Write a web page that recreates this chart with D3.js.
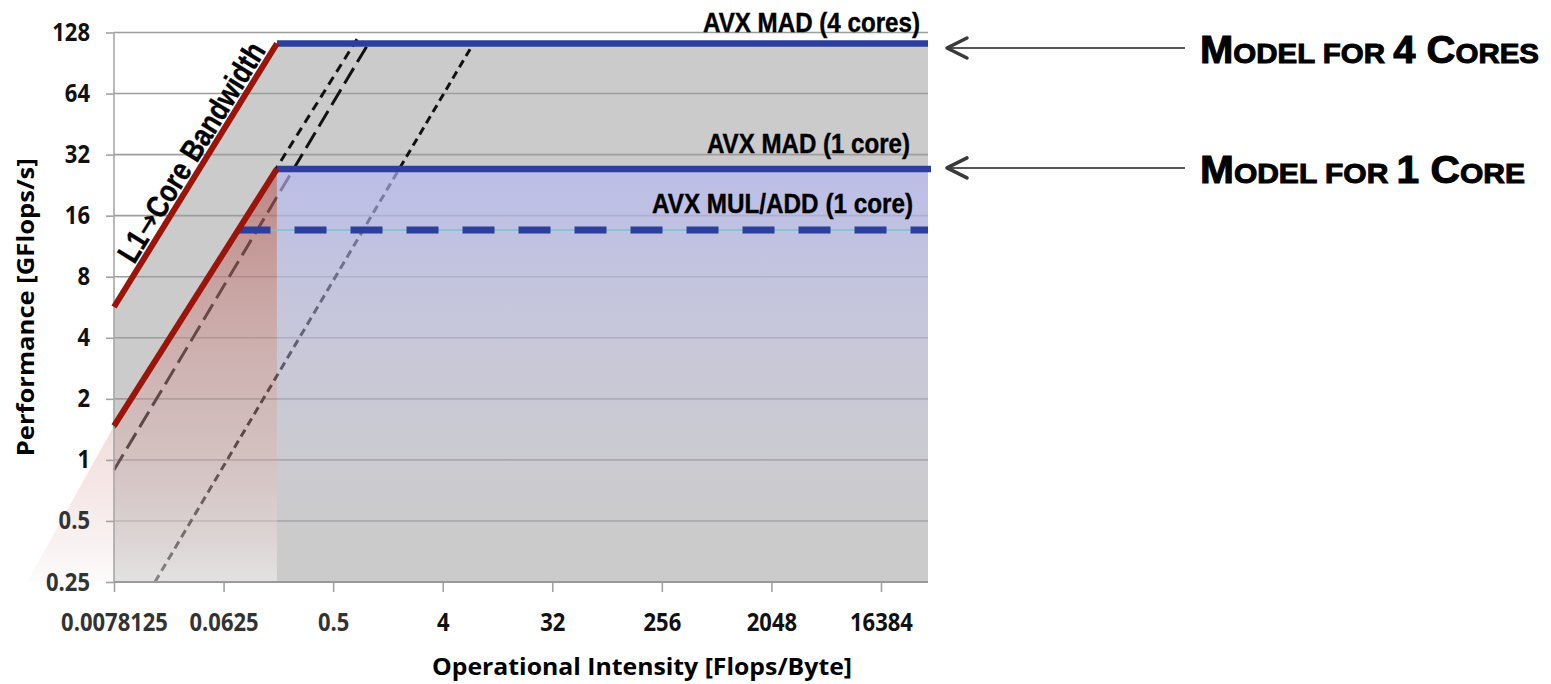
<!DOCTYPE html>
<html>
<head>
<meta charset="utf-8">
<script src="https://cdn.jsdelivr.net/npm/d3@7"></script>
<style>
  body { margin: 0; background: #fff; }
  text { font-family: "Open Sans", "Liberation Sans", sans-serif; }
  .narrow { font-family: "Liberation Sans Narrow", "Liberation Sans", "DejaVu Sans", sans-serif; font-weight: bold; }
</style>
</head>
<body>
<svg id="roofline" width="1551" height="684"></svg>
<script>
// axis ticks and limits
const xTicks = [0.0078125, 0.0625, 0.5, 4, 32, 256, 2048, 16384];
const yTicks = [0.25, 0.5, 1, 2, 4, 8, 16, 32, 64, 128];
const xLimits = [0.0078125, 40000];
const yLimits = [0.25, 128];

// compute ceilings (GFlops/s) and where each one starts (Flops/Byte)
const roofLabels = ["AVX MAD (4 cores)", "AVX MAD (1 core)", "AVX MUL/ADD (1 core)"];
const roofPeaks = [113, 27.2, 13.6];
const roofStarts = [0.172, 0.172, 0.083];

// L1 -> core bandwidth slopes, [intensity, performance]
const bw4 = [[0.0078125, 5.67], [0.172, 113]];
const bw1 = [[0.0078125, 1.47], [0.172, 27.2]];

// black dashed bandwidth lines behind
const dashA = [[0.0078125, 1.435], [0.787, 118.7]];
const dashB = [[0.0078125, 0.891], [0.951, 110]];
const dashC = [[0.017, 0.25], [6.98, 110]];

// where the shaded 1-core wedge meets the bottom
const wedgeFoot = [0.0015, 0.25];

const modelNotes = ["Model for 4 Cores", "Model for 1 Core"];

const svg = d3.select("#roofline");

const x = d3.scaleLog().domain(xLimits).range([114, 928]);
const y = d3.scaleLog().domain(yLimits).range([582, 32.5]);

const line = d3.line()
  .x(d => x(d[0]))
  .y(d => y(d[1]));

const xMax = xLimits[1], yMin = yLimits[0];

// squeeze a text sideways so it looks like a condensed face
function squeeze(sel, k) {
  sel.each(function () {
    const w = this.getComputedTextLength();
    d3.select(this).attr("textLength", w * k).attr("lengthAdjust", "spacingAndGlyphs");
  });
}

// gradients for the 1 core area
const defs = svg.append("defs");
const redGrad = defs.append("linearGradient").attr("id", "redFade")
  .attr("gradientUnits", "userSpaceOnUse")
  .attr("x1", 0).attr("x2", 0).attr("y1", y(roofPeaks[1])).attr("y2", y(yMin));
redGrad.append("stop").attr("offset", 0).attr("stop-color", "rgb(178,90,86)").attr("stop-opacity", 0.62);
redGrad.append("stop").attr("offset", 0.65).attr("stop-color", "rgb(222,168,166)").attr("stop-opacity", 0.36);
redGrad.append("stop").attr("offset", 1).attr("stop-color", "rgb(250,248,248)").attr("stop-opacity", 0.5);

const blueGrad = defs.append("linearGradient").attr("id", "blueFade")
  .attr("gradientUnits", "userSpaceOnUse")
  .attr("x1", 0).attr("x2", 0).attr("y1", y(roofPeaks[1])).attr("y2", y(yMin));
blueGrad.append("stop").attr("offset", 0).attr("stop-color", "rgb(180,183,245)").attr("stop-opacity", 0.68);
blueGrad.append("stop").attr("offset", 0.6).attr("stop-color", "rgb(200,200,230)").attr("stop-opacity", 0.35);
blueGrad.append("stop").attr("offset", 1).attr("stop-color", "rgb(204,204,204)").attr("stop-opacity", 0.1);

// gray area under the 4 core roofline
svg.append("path")
  .attr("d", line([bw4[0], bw4[1], [xMax, roofPeaks[0]], [xMax, yMin], [xLimits[0], yMin]]) + "Z")
  .attr("fill", "#cbcbcb");

// grid
svg.append("g")
  .selectAll("line")
  .data(yTicks)
  .join("line")
  .attr("x1", x(xLimits[0])).attr("x2", x(xMax))
  .attr("y1", d => y(d)).attr("y2", d => y(d))
  .attr("stroke", "#9d9d9d")
  .attr("stroke-width", 1.6);

// dashed black lines
const dashes = [[dashA, "9,6"], [dashB, "18,7"], [dashC, "8,5"]];
svg.append("g")
  .selectAll("path")
  .data(dashes)
  .join("path")
  .attr("d", d => line(d[0]))
  .attr("fill", "none")
  .attr("stroke", "#111")
  .attr("stroke-width", 3)
  .attr("stroke-dasharray", d => d[1]);

// shaded 1 core region
svg.append("path")
  .attr("d", line([wedgeFoot, bw1[0], bw1[1], [bw1[1][0], yMin]]) + "Z")
  .attr("fill", "url(#redFade)");
svg.append("path")
  .attr("d", line([[roofStarts[1], roofPeaks[1]], [xMax, roofPeaks[1]], [xMax, yMin], [roofStarts[1], yMin]]) + "Z")
  .attr("fill", "url(#blueFade)");

// axes
const yAxis = svg.append("g")
  .attr("transform", "translate(" + x(xLimits[0]) + ",0)")
  .call(d3.axisLeft(y).tickValues(yTicks).tickFormat(d => d).tickSize(8).tickPadding(16));
const xAxis = svg.append("g")
  .attr("transform", "translate(0," + y(yMin) + ")")
  .call(d3.axisBottom(x).tickValues(xTicks).tickFormat(d => d).tickSize(10).tickPadding(21));
[yAxis, xAxis].forEach(g => {
  g.select(".domain").remove();
  g.selectAll(".tick line").attr("stroke", "#a3a3a3").attr("stroke-width", 1.6);
  g.selectAll("text")
    .attr("font-family", "Open Sans")
    .attr("font-weight", "bold")
    .attr("font-size", 25)
    .attr("fill", d => d < 1 ? "#333" : "#111")
    .call(squeeze, 0.88);
});
svg.append("line")
  .attr("x1", x(xLimits[0])).attr("x2", x(xLimits[0]))
  .attr("y1", y(yLimits[1])).attr("y2", y(yMin))
  .attr("stroke", "#a8a8a8").attr("stroke-width", 1.6);
svg.append("line")
  .attr("x1", x(xLimits[0])).attr("x2", x(xMax))
  .attr("y1", y(yMin)).attr("y2", y(yMin))
  .attr("stroke", "#9a9a9a").attr("stroke-width", 2.2);

// MUL/ADD ceiling: thin cyan + blue dashes
svg.append("line")
  .attr("x1", x(roofStarts[2])).attr("x2", x(xMax))
  .attr("y1", y(roofPeaks[2])).attr("y2", y(roofPeaks[2]))
  .attr("stroke", "#6ccaca").attr("stroke-width", 1.5);
svg.append("line")
  .attr("x1", x(roofStarts[2])).attr("x2", x(xMax))
  .attr("y1", y(roofPeaks[2])).attr("y2", y(roofPeaks[2]))
  .attr("stroke", "#2d3f9e").attr("stroke-width", 7)
  .attr("stroke-dasharray", "32,24");

// solid roofs
svg.append("g")
  .selectAll("line")
  .data([0, 1])
  .join("line")
  .attr("x1", i => x(roofStarts[i])).attr("x2", i => x(xMax) + (i === 1 ? 3 : 0))
  .attr("y1", i => y(roofPeaks[i])).attr("y2", i => y(roofPeaks[i]))
  .attr("stroke", "#2d3f9e").attr("stroke-width", 6.5);

// bandwidth slopes
svg.append("g")
  .selectAll("path")
  .data([bw4, bw1])
  .join("path")
  .attr("d", d => line(d))
  .attr("fill", "none")
  .attr("stroke", "#9b1409")
  .attr("stroke-width", 6);

// roof labels
const labelRight = [920, 910, 913];
const labelRise = [11.5, 16, 17];
const labelWidth = [217, 203, 261];
svg.append("g")
  .selectAll("text")
  .data(roofLabels)
  .join("text")
  .attr("class", "narrow")
  .attr("x", (d, i) => labelRight[i])
  .attr("y", (d, i) => y(roofPeaks[i]) - labelRise[i])
  .attr("text-anchor", "end")
  .attr("font-size", 27)
  .attr("stroke", "#000")
  .attr("stroke-width", 0.4)
  .attr("textLength", (d, i) => labelWidth[i])
  .attr("lengthAdjust", "spacingAndGlyphs")
  .text(d => d);

// bandwidth label along the 4 core slope
const p0 = [x(bw4[0][0]), y(bw4[0][1])];
const p1 = [x(bw4[1][0]), y(bw4[1][1])];
const angle = Math.atan2(p1[1] - p0[1], p1[0] - p0[0]) * 180 / Math.PI;
const t = 0.15;
const bwLabel = svg.append("text")
  .attr("class", "narrow")
  .attr("transform", "translate(" + (p0[0] + t * (p1[0] - p0[0])) + "," + (p0[1] + t * (p1[1] - p0[1])) + ") rotate(" + angle + ")")
  .attr("y", -5)
  .attr("font-size", 31)
  .attr("stroke", "#000")
  .attr("stroke-width", 0.4)
  .attr("textLength", 252)
  .attr("lengthAdjust", "spacingAndGlyphs");
bwLabel.append("tspan").text("L1");
bwLabel.append("tspan").attr("font-family", "DejaVu Sans").attr("font-weight", "normal").text("\u2192");
bwLabel.append("tspan").text("Core Bandwidth");

// axis titles
svg.append("text")
  .attr("x", 642).attr("y", 675)
  .attr("text-anchor", "middle")
  .attr("font-weight", "bold")
  .attr("font-size", 24)
  .attr("textLength", 420)
  .attr("lengthAdjust", "spacingAndGlyphs")
  .text("Operational Intensity [Flops/Byte]");
svg.append("text")
  .attr("transform", "translate(34," + ((y(yLimits[1]) + y(yMin)) / 2) + ") rotate(-90)")
  .attr("text-anchor", "middle")
  .attr("font-weight", "bold")
  .attr("font-size", 23)
  .attr("textLength", 298)
  .attr("lengthAdjust", "spacingAndGlyphs")
  .text("Performance [GFlops/s]");

// "Model for ..." notes with arrows
const arrowShift = [4.5, -1];
const noteWidth = [339, 325];
modelNotes.forEach((note, i) => {
  const ay = y(roofPeaks[i]) + arrowShift[i];
  svg.append("line")
    .attr("x1", 947).attr("x2", 1185)
    .attr("y1", ay).attr("y2", ay)
    .attr("stroke", "#555").attr("stroke-width", 2);
  svg.append("path")
    .attr("d", "M967," + (ay - 10) + "L947," + ay + "L967," + (ay + 10))
    .attr("fill", "none")
    .attr("stroke", "#3a3a3a").attr("stroke-width", 3.5)
    .attr("stroke-linecap", "round").attr("stroke-linejoin", "round");
  const txt = svg.append("text")
    .attr("class", "narrow")
    .attr("x", 1200)
    .attr("y", ay + 15)
    .attr("stroke", "#000")
    .attr("stroke-width", 1)
    .attr("textLength", noteWidth[i])
    .attr("lengthAdjust", "spacingAndGlyphs");
  note.match(/[a-z ]+|[^a-z ]+/g).forEach(run => {
    txt.append("tspan")
      .attr("font-size", /[a-z]/.test(run) ? 28 : 38)
      .text(run.toUpperCase());
  });
});
</script>
</body>
</html>
